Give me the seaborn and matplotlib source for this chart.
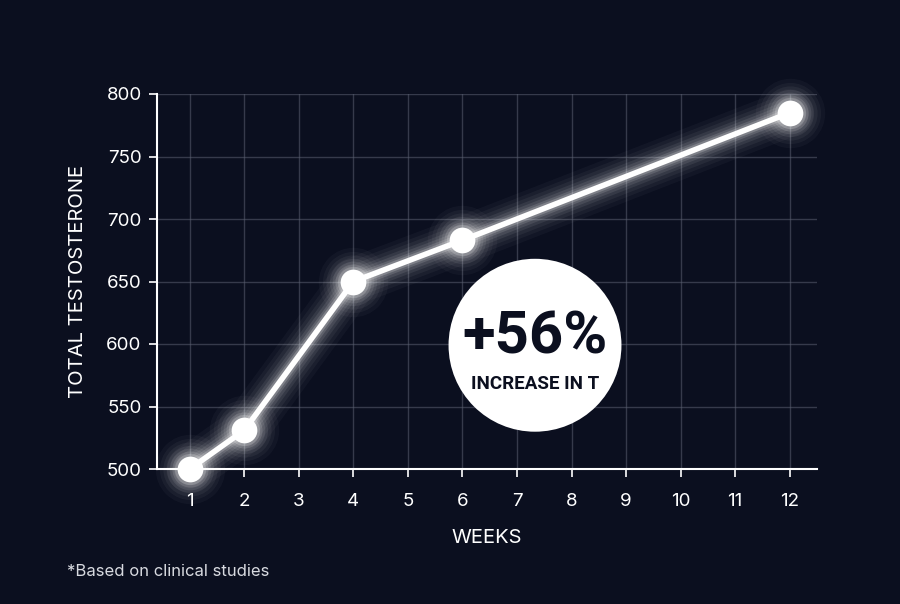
import matplotlib
matplotlib.use("Agg")
import matplotlib.pyplot as plt
import seaborn as sns
import pandas as pd

weeks = [1, 2, 4, 6, 12]
testosterone = [500, 531, 650, 683, 785]
x_ticks = list(range(1, 13))
y_ticks = [500, 550, 600, 650, 700, 750, 800]
badge_value = "+56%"
badge_label = "INCREASE IN T"
x_label = "WEEKS"
y_label = "TOTAL TESTOSTERONE"
footnote = "*Based on clinical studies"

bg = "#0b0f1f"
sns.set_theme(style="dark")
plt.rcParams["font.family"] = ["Inter", "DejaVu Sans"]

df = pd.DataFrame({"week": weeks, "t": testosterone})

fig = plt.figure(figsize=(9, 6.04), dpi=100, facecolor=bg)
ax = fig.add_axes([157/900, 1-469/604, (817-157)/900, (469-94)/604])
ax.set_facecolor(bg)

# grid
ax.set_xticks(x_ticks)
ax.set_yticks(y_ticks)
ax.grid(True, color="#5a5f70", linewidth=1.0, alpha=0.55)
ax.set_axisbelow(True)

# glow layers
for lw, ms, a in [(34, 50, 0.03), (28, 44, 0.04), (23, 39, 0.05), (18, 34, 0.07),
                  (14, 30, 0.09), (10, 26, 0.13), (7, 22.5, 0.2)]:
    ln, = ax.plot(df["week"], df["t"], color="white", linewidth=lw, alpha=a,
                  marker="o", markersize=ms, markeredgewidth=0, solid_capstyle="round", zorder=3)
    ln.set_clip_on(False)

sns.lineplot(data=df, x="week", y="t", ax=ax, color="white", linewidth=4,
             marker="o", markersize=18.5, markeredgewidth=0, markerfacecolor="white", zorder=5)
for ln in ax.lines:
    ln.set_clip_on(False)

# badge
ax.scatter([7.33], [599], s=15500, color="white", edgecolors="none", zorder=6)
ax.text(7.33, 605, badge_value, ha="center", va="center", fontsize=43,
        fontweight="bold", color=bg, zorder=7, family=["Roboto", "DejaVu Sans"])
ax.text(7.33, 568, badge_label, ha="center", va="center", fontsize=13.5,
        fontweight="bold", color=bg, zorder=7, family=["Roboto", "DejaVu Sans"])

ax.set_xlim(0.4, 12.5)
ax.set_ylim(500, 800)

for s in ["top", "right"]:
    ax.spines[s].set_visible(False)
for s in ["left", "bottom"]:
    ax.spines[s].set_visible(True)
    ax.spines[s].set_color("white")
    ax.spines[s].set_linewidth(1.5)

ax.tick_params(axis="both", colors="white", labelsize=13.5, length=6, width=1.2,
               bottom=True, left=True)
ax.tick_params(axis="y", pad=5)
ax.tick_params(axis="x", pad=11)
ax.set_xlabel(x_label, color="white", fontsize=14.5, labelpad=14)
ax.set_ylabel(y_label, color="white", fontsize=14.5, labelpad=14)

fig.text(67/900, 1-571/604, footnote, color="#d8dae0", fontsize=12, va="center", ha="left")

fig.savefig("out.png", dpi=100, facecolor=bg)
